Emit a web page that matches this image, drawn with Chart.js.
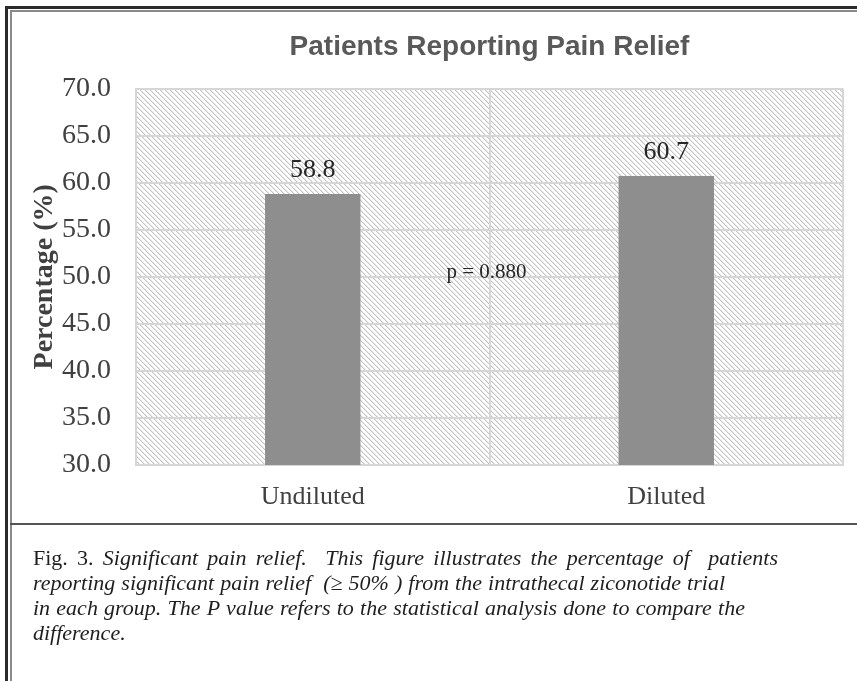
<!DOCTYPE html>
<html>
<head>
<meta charset="utf-8">
<script src="https://cdn.jsdelivr.net/npm/chart.js@4.4.1/dist/chart.umd.min.js"></script>
<style>
  body { margin: 0; background: #fff; }
  #wrap { position: relative; width: 857px; height: 681px; overflow: hidden; }
  #box { position: absolute; left: 0; top: 0; width: 857px; height: 681px; }
  .ln { position: absolute; }
  .cap { position: absolute; left: 33px; white-space: nowrap; font-family: "Liberation Serif", serif;
         font-size: 22px; font-style: italic; color: #1e1e1e; line-height: 25px;
         text-align: justify; text-align-last: justify; }
  .cap span { font-style: normal; }
</style>
</head>
<body>
<div id="wrap">
  <div id="box"><canvas id="chart"></canvas></div>
  <!-- frame -->
  <div class="ln" style="left:5px;top:6px;width:852px;height:3px;background:#2b2b2b"></div>
  <div class="ln" style="left:5px;top:6px;width:3px;height:675px;background:#2b2b2b"></div>
  <div class="ln" style="left:10px;top:10px;width:847px;height:2px;background:#8a8a8a"></div>
  <div class="ln" style="left:10px;top:10px;width:2px;height:671px;background:#8a8a8a"></div>
  <div class="ln" style="left:10px;top:523px;width:847px;height:2px;background:#555"></div>
  <!-- caption -->
  <div class="cap" style="top:545px;width:745px"><span>Fig. 3.</span> Significant pain relief.&nbsp; This figure illustrates the percentage of&nbsp; patients</div>
  <div class="cap" style="top:570px;width:692px">reporting significant pain relief&nbsp; (≥ 50% ) from the intrathecal ziconotide trial</div>
  <div class="cap" style="top:595px;width:712px">in each group. The P value refers to the statistical analysis done to compare the</div>
  <div class="cap" style="top:620px;text-align:left;text-align-last:left">difference.</div>
</div>
<script>
// pain relief by group
const groups = ['Undiluted', 'Diluted'];
const percentages = [58.8, 60.7];
const pValueText = 'p = 0.880';
const yMin = 30, yMax = 70, yStep = 5;

// diagonal hatch for the plot background
function hatch(){
    const n = 5;
    const c = document.createElement('canvas');
    c.width = n; c.height = n;
    const g = c.getContext('2d');
    g.fillStyle = '#fff';
    g.fillRect(0, 0, n, n);
    for (let i = 0; i < n; i++) {
        g.fillStyle = '#c4c4c4';
        g.fillRect(i, i, 1, 1);
        g.fillStyle = '#e8e8e8';
        g.fillRect((i + 1) % n, i, 1, 1);
    }
    return c;
}

const plotBackground = {
    id: 'plotBackground',
    beforeDraw(chart){
        const {ctx, chartArea: a} = chart;
        ctx.save();
        ctx.fillStyle = ctx.createPattern(hatch(), 'repeat');
        ctx.fillRect(a.left, a.top, a.right - a.left, a.bottom - a.top);
        ctx.restore();
    }
};

const barLabels = {
    id: 'barLabels',
    afterDatasetsDraw(chart){
        const {ctx} = chart;
        const meta = chart.getDatasetMeta(0);
        ctx.save();
        ctx.font = '26px "Liberation Serif"';
        ctx.fillStyle = '#262626';
        ctx.textAlign = 'center';
        ctx.textBaseline = 'middle';
        meta.data.forEach((bar, i) => {
            ctx.fillText(percentages[i].toFixed(1), bar.x, bar.y - 24);
        });
        // p value between the bars
        const xs = chart.scales.x, ys = chart.scales.y;
        ctx.font = '21px "Liberation Serif"';
        ctx.fillText(pValueText, (xs.left + xs.right) / 2 - 3, ys.getPixelForValue(50.5));
        ctx.restore();
    }
};

const ctx = document.getElementById('chart').getContext('2d');
const myChart = new Chart(ctx, {
    type: 'bar',
    data: {
        labels: groups,
        datasets: [{
            data: percentages,
            backgroundColor: '#8e8e8e',
            categoryPercentage: 1,
            barPercentage: 0.27
        }]
    },
    options: {
        responsive: true,
        maintainAspectRatio: false,
        animation: false,
        layout: { padding: { left: 12, right: 14, top: 12, bottom: 156 } },
        plugins: {
            legend: { display: false },
            tooltip: { enabled: false },
            title: {
                display: true,
                text: 'Patients Reporting Pain Relief',
                fullSize: false,
                color: '#595959',
                font: { family: '"Liberation Sans", sans-serif', size: 28, weight: 'bold' },
                padding: { top: 18, bottom: 25 }
            }
        },
        scales: {
            x: {
                grid: { color: '#d6d6d6', lineWidth: 2, drawTicks: false },
                border: { display: true, color: '#d6d6d6', width: 2 },
                ticks: { color: '#404040', padding: 17, font: { family: '"Liberation Serif"', size: 26 } },
                afterFit(scale){ scale.height = 60; }
            },
            y: {
                min: yMin,
                max: yMax,
                grid: { color: '#d6d6d6', lineWidth: 2, drawTicks: false },
                border: { display: true, color: '#d6d6d6', width: 2 },
                ticks: {
                    stepSize: yStep,
                    color: '#404040',
                    padding: 25,
                    font: { family: '"Liberation Serif"', size: 28 },
                    callback: v => v.toFixed(1)
                },
                title: {
                    display: true,
                    text: 'Percentage (%)',
                    color: '#404040',
                    font: { family: '"Liberation Serif"', size: 28, weight: 'bold' },
                    padding: { top: 16, bottom: 0 }
                },
                afterFit(scale){ scale.width = 124; }
            }
        }
    },
    plugins: [plotBackground, barLabels]
});
</script>
</body>
</html>
